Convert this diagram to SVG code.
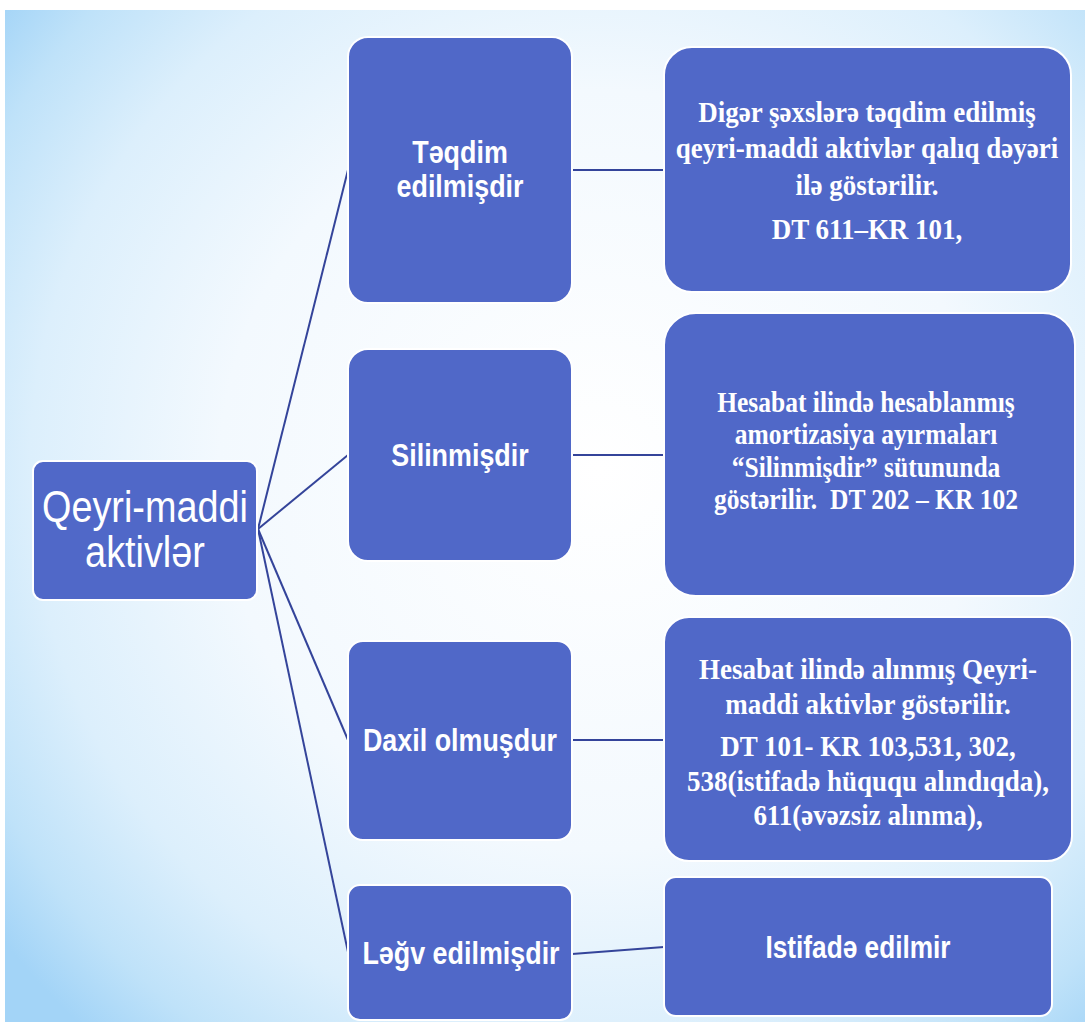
<svg xmlns="http://www.w3.org/2000/svg" width="1085" height="1022" viewBox="0 0 1085 1022">
  <defs>
    <radialGradient id="bg" gradientUnits="userSpaceOnUse" cx="600" cy="470" r="760">
      <stop offset="0" stop-color="#FFFFFF"/>
      <stop offset="0.5" stop-color="#F3F9FE"/>
      <stop offset="0.75" stop-color="#DCEFFC"/>
      <stop offset="0.9" stop-color="#BFE2F9"/>
      <stop offset="1" stop-color="#A3D4F7"/>
    </radialGradient>
    <style>
      .box { fill: #5068C8; stroke: #FFFFFF; stroke-width: 2; }
      .sans { font-family: "Liberation Sans", Arial, sans-serif; fill: #FFFFFF; text-anchor: middle; }
      .serif { font-family: "Liberation Serif", "Times New Roman", serif; font-weight: bold; fill: #FFFFFF; text-anchor: middle; }
      .b { font-weight: bold; }
      .conn { stroke: #34449A; stroke-width: 2; fill: none; }
    </style>
  </defs>

  <rect x="0" y="0" width="1085" height="1022" fill="#FFFFFF"/>
  <rect x="5" y="10" width="1080" height="1012" fill="url(#bg)"/>

  <g id="connectors">
    <line class="conn" x1="258" y1="529" x2="348" y2="170"/>
    <line class="conn" x1="258" y1="529" x2="348" y2="455"/>
    <line class="conn" x1="258" y1="529" x2="348" y2="740"/>
    <line class="conn" x1="258" y1="529" x2="348" y2="952"/>
    <line class="conn" x1="572" y1="170" x2="664" y2="170"/>
    <line class="conn" x1="572" y1="455" x2="664" y2="455"/>
    <line class="conn" x1="572" y1="740" x2="664" y2="740"/>
    <line class="conn" x1="572" y1="954" x2="664" y2="947"/>
  </g>

  <g id="root">
    <rect class="box" x="33" y="461" width="224" height="139" rx="10"/>
    <g transform="translate(145 0) scale(0.86 1)">
      <text class="sans" x="0" y="522" font-size="44">Qeyri-maddi</text>
      <text class="sans" x="0" y="567" font-size="44">aktivlər</text>
    </g>
  </g>

  <g id="teqdim">
    <rect class="box" x="348" y="37" width="224" height="266" rx="20"/>
    <g transform="translate(460 0) scale(0.84 1)">
      <text class="sans b" x="0" y="163" font-size="32">Təqdim</text>
      <text class="sans b" x="0" y="197" font-size="32">edilmişdir</text>
    </g>
  </g>

  <g id="silinmis">
    <rect class="box" x="348" y="349" width="224" height="212" rx="20"/>
    <g transform="translate(460 0) scale(0.84 1)">
      <text class="sans b" x="0" y="466" font-size="32">Silinmişdir</text>
    </g>
  </g>

  <g id="daxil">
    <rect class="box" x="348" y="641" width="224" height="199" rx="15"/>
    <g transform="translate(460 0) scale(0.84 1)">
      <text class="sans b" x="0" y="751" font-size="32">Daxil olmuşdur</text>
    </g>
  </g>

  <g id="legv">
    <rect class="box" x="348" y="885" width="224" height="135" rx="12"/>
    <g transform="translate(461 0) scale(0.84 1)">
      <text class="sans b" x="0" y="964" font-size="32">Ləğv edilmişdir</text>
    </g>
  </g>

  <g id="desc-teqdim">
    <rect class="box" x="664" y="47" width="407" height="245" rx="28"/>
    <g transform="translate(867 0) scale(0.9 1)">
      <text class="serif" x="0" y="122" font-size="30">Digər şəxslərə təqdim edilmiş</text>
      <text class="serif" x="0" y="158" font-size="30">qeyri-maddi aktivlər qalıq dəyəri</text>
      <text class="serif" x="0" y="195" font-size="30">ilə göstərilir.</text>
      <text class="serif" x="0" y="239" font-size="30">DT 611–KR 101,</text>
    </g>
  </g>

  <g id="desc-silinmis">
    <rect class="box" x="664" y="313" width="411" height="283" rx="32"/>
    <g transform="translate(866 0) scale(0.88 1)">
      <text class="serif" x="0" y="412" font-size="29">Hesabat ilində hesablanmış</text>
      <text class="serif" x="0" y="444" font-size="29">amortizasiya ayırmaları</text>
      <text class="serif" x="0" y="477" font-size="29">“Silinmişdir” sütununda</text>
      <text class="serif" x="0" y="509" font-size="29" xml:space="preserve">göstərilir.  DT 202 – KR 102</text>
    </g>
  </g>

  <g id="desc-daxil">
    <rect class="box" x="664" y="617" width="408" height="244" rx="25"/>
    <g transform="translate(868 0) scale(0.9 1)">
      <text class="serif" x="0" y="679" font-size="30">Hesabat ilində alınmış Qeyri-</text>
      <text class="serif" x="0" y="714" font-size="30">maddi aktivlər göstərilir.</text>
      <text class="serif" x="0" y="756" font-size="30">DT 101- KR 103,531, 302,</text>
      <text class="serif" x="0" y="791" font-size="30">538(istifadə hüququ alındıqda),</text>
      <text class="serif" x="0" y="825" font-size="30">611(əvəzsiz alınma),</text>
    </g>
  </g>

  <g id="desc-legv">
    <rect class="box" x="664" y="877" width="388" height="139" rx="12"/>
    <g transform="translate(858 0) scale(0.82 1)">
      <text class="sans b" x="0" y="958" font-size="32">Istifadə edilmir</text>
    </g>
  </g>
</svg>
